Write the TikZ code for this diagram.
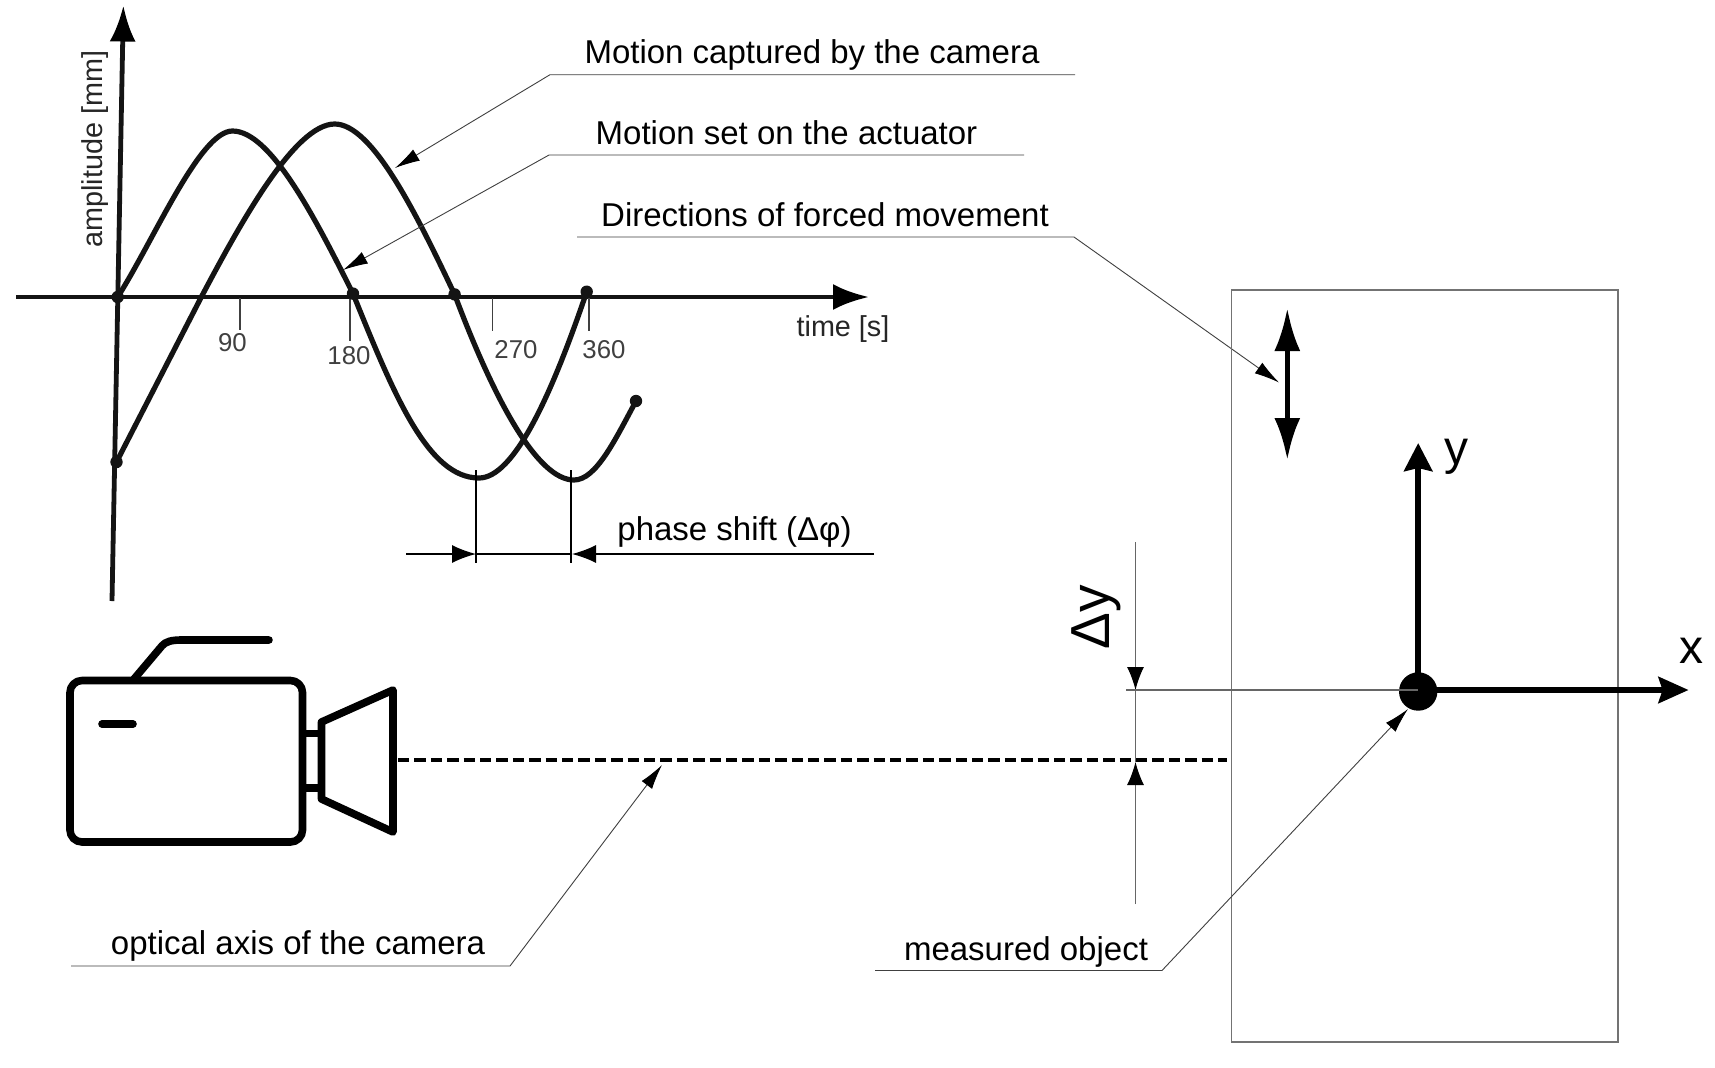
\documentclass[tikz,border=0pt]{standalone}
\usepackage{fontspec}
\setmainfont{Liberation Sans}
\usetikzlibrary{arrows.meta}
\definecolor{leadgray}{gray}{0.25}
\definecolor{curveink}{gray}{0.08}
\definecolor{ticktext}{gray}{0.25}
\tikzset{
  x=0.5pt,y=-0.5pt,
  lbl/.style={inner sep=0pt,font=\fontsize{16.5}{18}\selectfont},
  small/.style={inner sep=0pt,text=ticktext,font=\fontsize{12.9}{14}\selectfont},
  axlabel/.style={inner sep=0pt,font=\fontsize{14.4}{16}\selectfont,text=black!85},
  big/.style={inner sep=0pt,font=\fontsize{24}{26}\selectfont},
  lead/.style={draw=leadgray,line width=0.45pt},
  leadarrow/.style={lead,-{Latex[length=12.5pt,width=6.5pt,color=black]}},
  tickline/.style={draw=black!75,line width=0.6pt},
  axisline/.style={draw=curveink,line width=2.4pt},
  wave/.style={draw=curveink,line width=2.6pt},
  dotmark/.style={fill=curveink,draw=none},
  frame/.style={draw=black!55,line width=0.65pt},
  cam/.style={draw=black,line width=3.8pt,line join=round},
  dimline/.style={draw=black,line width=0.65pt},
  dimgray/.style={draw=black!60,line width=0.6pt},
  dimtip/.style={-{Latex[length=11.5pt,width=8.5pt,color=black]}},
}
\begin{document}
\begin{tikzpicture}
\useasboundingbox (0,0) rectangle (1715,1067);
\fill[white] (0,0) rectangle (1715,1067);

% ---------- graph axes
\coordinate (yb) at (112,601);
\coordinate (yt) at (123.4,5.5);
\coordinate (xl) at (16,297);
\coordinate (xr) at (869,297);
\draw[axisline,-{Latex[length=18pt,width=13pt,color=black]}] (yb) -- (yt);
\draw[axisline,-{Latex[length=18pt,width=13pt,color=black]}] (xl) -- (xr);

% ticks
\draw[tickline] (240,298) -- (240,330);
\draw[tickline] (350,298) -- (350,341);
\draw[tickline] (492.5,298) -- (492.5,331);
\draw[tickline] (589,298) -- (589,331);
\node[small] (t90) at (232.5,343) {90};
\node[small] (t180) at (349,356) {180};
\node[small] (t270) at (516,350) {270};
\node[small] (t360) at (604,350) {360};
\node[axlabel] (tlabel) at (843,329) {time [s]};
\node[axlabel,rotate=90] (alabel) at (95,149) {amplitude [mm]};

% ---------- waves
\draw[wave] (117.7,297) .. controls (155,238) and (200,131) .. (232.5,131)
  .. controls (270,131) and (313.7,215) .. (353,293.6)
  .. controls (394,395) and (428,478) .. (479,478)
  .. controls (514,478) and (551.6,395) .. (586.7,291.7);
\draw[wave] (116.5,462) -- (201,297.6)
  .. controls (241,222) and (295,124) .. (334.7,124)
  .. controls (372,124) and (415.5,212) .. (454.6,294.4)
  .. controls (493.5,398) and (537,480) .. (574,480)
  .. controls (596,480) and (615,440) .. (636,401);
\foreach \p in {(117.7,297),(353,293.6),(454.6,294.4),(586.7,291.7),(116.5,462),(636,401)}
  \fill[dotmark] \p circle (3.1pt);

% ---------- phase shift
\coordinate (pa) at (476,554);
\coordinate (pb) at (572,554);
\coordinate (pl) at (406,554);
\coordinate (pr) at (874,554);
\draw[dimline] (476,470) -- (476,563);
\draw[dimline] (571,470) -- (571,563);
\draw[dimline] (pa) -- (pb);
\draw[dimline,-{Latex[length=12pt,width=9pt,color=black]}] (pl) -- (pa);
\draw[dimline,-{Latex[length=12pt,width=9pt,color=black]}] (pr) -- (pb);
\node[lbl] (phase) at (734.5,532) {phase shift (Δφ)};

% ---------- leaders, top right
\node[lbl] (m1) at (812,55) {Motion captured by the camera};
\coordinate (m1a) at (1075,74.7);
\coordinate (m1b) at (550,74.7);
\coordinate (m1c) at (395,168);
\draw[leadarrow] (m1a) -- (m1b) -- (m1c);

\node[lbl] (m2) at (786.5,133) {Motion set on the actuator};
\coordinate (m2a) at (1024,155);
\coordinate (m2b) at (549,155);
\coordinate (m2c) at (343,270);
\draw[leadarrow] (m2a) -- (m2b) -- (m2c);

\node[lbl] (m3) at (825,214.5) {Directions of forced movement};
\coordinate (m3a) at (577,237);
\coordinate (m3b) at (1074,237);
\coordinate (m3c) at (1279,382.5);
\draw[leadarrow] (m3a) -- (m3b) -- (m3c);

% ---------- object frame
\draw[frame] (1231.2,290) rectangle (1618,1042);

% direction double arrow
\coordinate (da) at (1287.3,308);
\coordinate (db) at (1287.3,460);
\draw[draw=black,line width=2.7pt,{Latex[length=21.5pt,width=13pt]}-{Latex[length=21pt,width=13pt]}] (da) -- (db);

% coordinate system
\coordinate (org) at (1418.2,690);
\coordinate (ytip) at (1418.2,443);
\coordinate (xtip) at (1688.6,690);
\draw[draw=black,line width=3.1pt,-{Stealth[length=14pt,width=14pt,inset=1.5pt]}] (org) -- (ytip);
\draw[draw=black,line width=3.1pt,-{Stealth[length=15pt,width=13pt,inset=2pt]}] (org) -- (xtip);
\fill[black] (1418.2,691.5) circle (9.6pt);
\node[big] (ylab) at (1456,457) {y};
\node[big] (xlab) at (1691,651) {x};

% delta y
\coordinate (dy1) at (1135.5,542);
\coordinate (dy2) at (1135.5,690);
\coordinate (dy3) at (1135.5,762);
\coordinate (dy4) at (1135.5,904);
\draw[dimgray,dimtip] (dy1) -- (dy2);
\draw[dimgray,dimtip] (dy4) -- (dy3);
\draw[dimgray] (dy2) -- (dy3);
\draw[dimgray] (1126,690) -- (org);
\node[inner sep=0pt,rotate=90,font=\fontsize{27.5}{29}\selectfont] (dylab) at (1096,617) {Δy};

% ---------- camera
\draw[cam,rounded corners=6pt] (70,680.5) rectangle (302.5,842);
\draw[cam,line cap=round] (134,679) -- (162,645.8)
   .. controls (165.5,641.5) and (172,640) .. (181,640) -- (269,640);
\draw[cam,line cap=round] (102,724) -- (133,724);
\draw[cam] (321.5,722) -- (393,690) -- (393,832) -- (321.5,799) -- cycle;
\draw[cam] (302.5,733.5) -- (321.5,733.5);
\draw[cam] (302.5,788) -- (321.5,788);

% optical axis
\coordinate (oa) at (398,760);
\coordinate (ob) at (1226.6,760);
\draw[draw=black,line width=2.2pt,dash pattern=on 5.7pt off 2.5pt] (oa) -- (ob);

% ---------- lower leaders
\node[lbl] (optl) at (298,945.5) {optical axis of the camera};
\coordinate (o1) at (71,966);
\coordinate (o2) at (510,966);
\coordinate (o3) at (662,765);
\draw[leadarrow] (o1) -- (o2) -- (o3);

\node[lbl] (meas) at (1026,952) {measured object};
\coordinate (q1) at (875,970.5);
\coordinate (q2) at (1162,970.5);
\coordinate (q3) at (1408,709);
\draw[leadarrow] (q1) -- (q2) -- (q3);
\end{tikzpicture}
\end{document}
